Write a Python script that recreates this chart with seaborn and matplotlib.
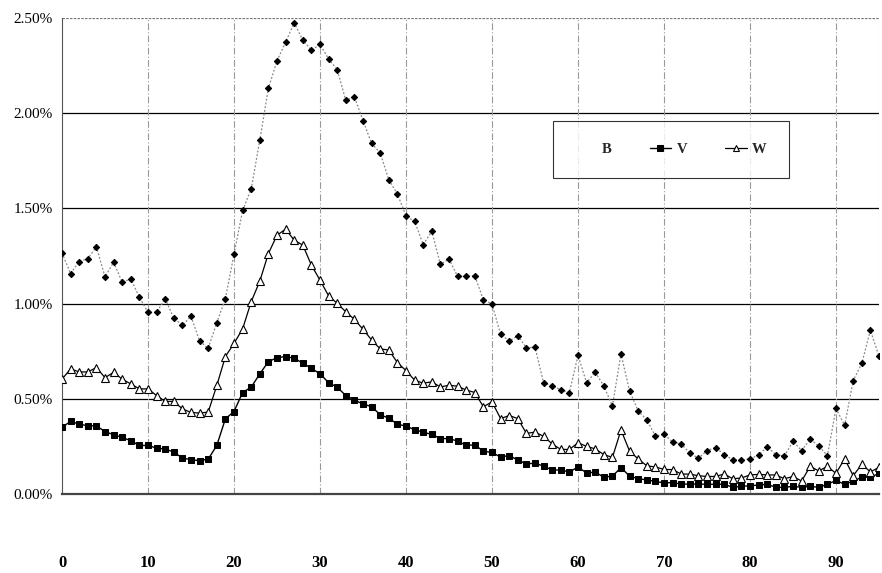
import matplotlib
matplotlib.use('Agg')
import matplotlib.pyplot as plt
import seaborn as sns
import pandas as pd
from matplotlib.ticker import FuncFormatter

# x positions 0..95
x_vals = list(range(96))

b_vals = [1.266, 1.158, 1.221, 1.236, 1.298, 1.140, 1.217, 1.112, 1.130, 1.033,
          0.954, 0.954, 1.026, 0.923, 0.886, 0.933, 0.804, 0.765, 0.900, 1.026,
          1.259, 1.489, 1.602, 1.858, 2.131, 2.275, 2.373, 2.475, 2.384, 2.331,
          2.361, 2.285, 2.229, 2.067, 2.086, 1.961, 1.841, 1.792, 1.650, 1.576,
          1.460, 1.432, 1.310, 1.380, 1.206, 1.234, 1.143, 1.143, 1.146, 1.020,
          0.998, 0.839, 0.804, 0.831, 0.768, 0.771, 0.584, 0.568, 0.548, 0.533,
          0.728, 0.584, 0.640, 0.568, 0.462, 0.736, 0.541, 0.436, 0.390, 0.304,
          0.314, 0.273, 0.263, 0.215, 0.188, 0.228, 0.244, 0.207, 0.180, 0.177,
          0.185, 0.204, 0.248, 0.207, 0.199, 0.277, 0.228, 0.288, 0.252, 0.201,
          0.449, 0.360, 0.595, 0.686, 0.860, 0.723]

v_vals = [0.351, 0.381, 0.367, 0.358, 0.358, 0.328, 0.311, 0.297, 0.280, 0.255,
          0.255, 0.241, 0.236, 0.220, 0.189, 0.180, 0.175, 0.183, 0.255, 0.395,
          0.433, 0.533, 0.561, 0.631, 0.695, 0.716, 0.722, 0.713, 0.687, 0.660,
          0.631, 0.585, 0.561, 0.517, 0.494, 0.472, 0.459, 0.416, 0.398, 0.367,
          0.356, 0.338, 0.324, 0.313, 0.291, 0.291, 0.278, 0.255, 0.258, 0.224,
          0.218, 0.194, 0.202, 0.178, 0.158, 0.162, 0.146, 0.126, 0.126, 0.115,
          0.142, 0.110, 0.115, 0.088, 0.094, 0.138, 0.094, 0.080, 0.074, 0.066,
          0.058, 0.060, 0.052, 0.052, 0.052, 0.051, 0.051, 0.051, 0.035, 0.040,
          0.043, 0.047, 0.051, 0.035, 0.035, 0.040, 0.035, 0.040, 0.035, 0.051,
          0.071, 0.051, 0.068, 0.088, 0.088, 0.108]

w_vals = [0.603, 0.657, 0.641, 0.641, 0.664, 0.611, 0.639, 0.603, 0.578, 0.552,
          0.552, 0.517, 0.486, 0.486, 0.447, 0.428, 0.425, 0.430, 0.570, 0.722,
          0.791, 0.867, 1.010, 1.118, 1.263, 1.359, 1.391, 1.333, 1.307, 1.202,
          1.123, 1.041, 1.001, 0.957, 0.917, 0.865, 0.809, 0.762, 0.756, 0.690,
          0.648, 0.598, 0.582, 0.589, 0.562, 0.571, 0.566, 0.546, 0.533, 0.458,
          0.484, 0.396, 0.412, 0.396, 0.318, 0.325, 0.303, 0.263, 0.234, 0.234,
          0.269, 0.250, 0.237, 0.207, 0.192, 0.336, 0.225, 0.184, 0.148, 0.142,
          0.129, 0.128, 0.105, 0.104, 0.096, 0.092, 0.092, 0.105, 0.080, 0.084,
          0.100, 0.103, 0.100, 0.100, 0.080, 0.092, 0.068, 0.145, 0.121, 0.145,
          0.108, 0.185, 0.096, 0.156, 0.116, 0.140]

x_ticks = [0, 10, 20, 30, 40, 50, 60, 70, 80, 90]
y_ticks = [0.0, 0.5, 1.0, 1.5, 2.0, 2.5]

df = pd.DataFrame({'x': x_vals, 'B': b_vals, 'V': v_vals, 'W': w_vals})

sns.set_style('white')
plt.rcParams['font.family'] = ['Liberation Serif', 'DejaVu Serif']

fig = plt.figure(figsize=(8.82, 5.73), dpi=100)
ax = fig.add_axes([0.0703, 0.1379, 0.9263, 0.8307])

sns.lineplot(data=df, x='x', y='B', ax=ax, color='#888888', linestyle=(0, (1.5, 1.5)),
             linewidth=0.9, marker='D', markersize=3.2, markerfacecolor='black',
             markeredgecolor='black', label='B', zorder=3)
sns.lineplot(data=df, x='x', y='V', ax=ax, color='black', linewidth=1.0,
             marker='s', markersize=5, markerfacecolor='black',
             markeredgecolor='black', label='V', zorder=4)
sns.lineplot(data=df, x='x', y='W', ax=ax, color='black', linewidth=0.9,
             marker='^', markersize=5.5, markerfacecolor='white',
             markeredgecolor='black', markeredgewidth=0.8, label='W', zorder=5)

ax.set_xlim(0, 95)
ax.set_ylim(0, 2.5)
ax.set_xticks(x_ticks)
ax.set_yticks(y_ticks)
ax.yaxis.set_major_formatter(FuncFormatter(lambda v, p: f'{v:.2f}%'))
ax.set_xlabel('')
ax.set_ylabel('')

# horizontal grid solid black, vertical dashed grey
for yv in y_ticks[1:-1]:
    ax.axhline(yv, color='black', linewidth=0.9, zorder=1)
ax.axhline(2.5, color='#777777', linewidth=0.9, linestyle=(0, (2, 1)), zorder=1)
for xv in x_ticks[1:]:
    ax.axvline(xv, color='#999999', linewidth=0.8, linestyle=(0, (6, 2, 1, 2)), zorder=1)

for side in ['top', 'right']:
    ax.spines[side].set_visible(False)
ax.spines['left'].set_color('#555555')
ax.spines['left'].set_linewidth(0.8)
ax.spines['bottom'].set_color('#444444')
ax.spines['bottom'].set_linewidth(1.6)
ax.axvline(95, color='#999999', linewidth=0.8, linestyle=(0, (2, 2)), zorder=1)

ax.tick_params(axis='y', length=3, width=0.8, labelsize=11, colors='black')
ax.tick_params(axis='x', length=0, pad=44, labelsize=12, colors='black')
for lbl in ax.get_xticklabels():
    lbl.set_fontweight('bold')

leg = ax.legend(ncol=3, loc='upper left', bbox_to_anchor=(0.601, 0.7836),
                borderaxespad=0, frameon=True, fancybox=False, edgecolor='black',
                borderpad=1.5, columnspacing=2.6, handlelength=1.5,
                handletextpad=0.35, markerscale=0.8,
                prop={'weight': 'bold', 'size': 10.5})
leg.get_frame().set_linewidth(0.8)
leg.legend_handles[0].set_visible(False)

plt.savefig('out.png', dpi=100)
